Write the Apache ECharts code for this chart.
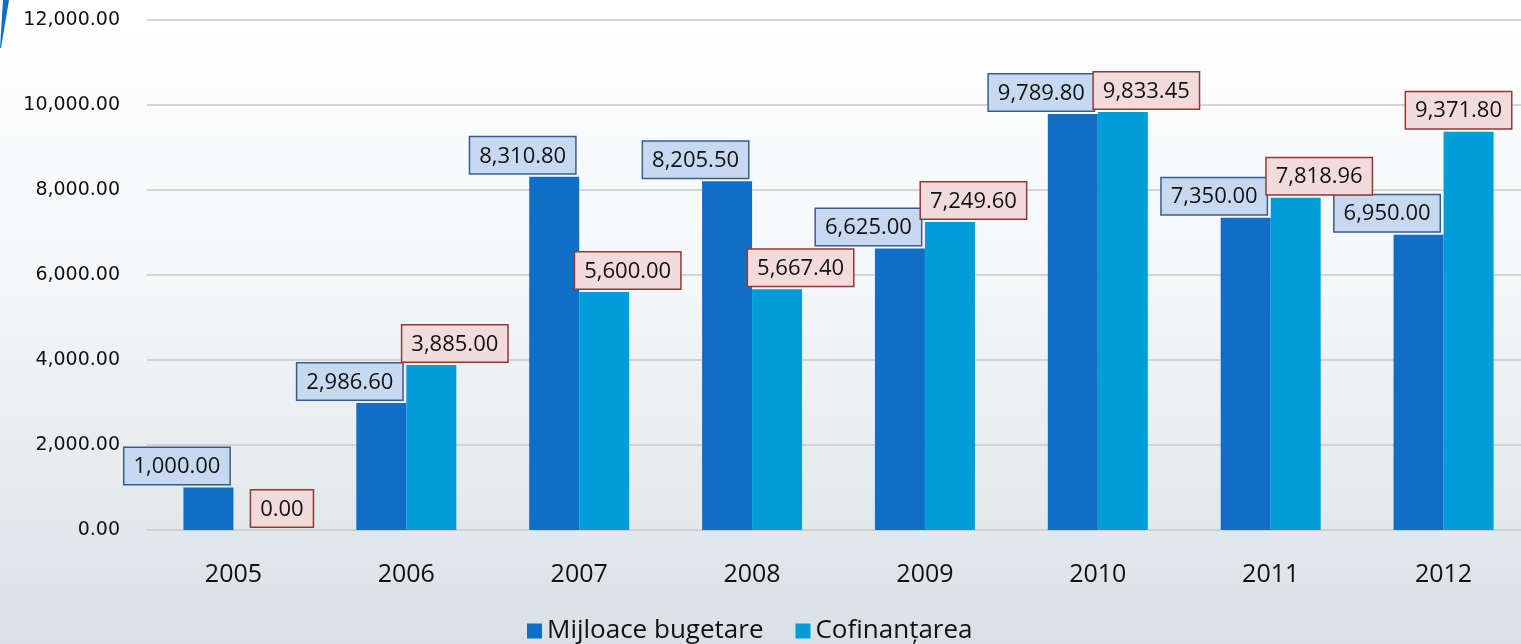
<!DOCTYPE html>
<html><head><meta charset="utf-8">
<script src="https://cdn.jsdelivr.net/npm/echarts@6/dist/echarts.min.js"></script>
<style>html,body{margin:0;padding:0;overflow:hidden;width:1521px;height:644px;}#c{width:1530px;height:644px;}</style>
</head><body><div id="c"></div>
<script>
const years = ['2005','2006','2007','2008','2009','2010','2011','2012'];
const mijloace = [1000.00, 2986.60, 8310.80, 8205.50, 6625.00, 9789.80, 7350.00, 6950.00];
const cofinantare = [0.00, 3885.00, 5600.00, 5667.40, 7249.60, 9833.45, 7818.96, 9371.80];
const seriesNames = ['Mijloace bugetare', 'Cofinanțarea'];

const fmt = v => Number(v).toLocaleString('en-US', {minimumFractionDigits: 2, maximumFractionDigits: 2});
const FONT = 'Open Sans';
const LABEL_SHIFT = [-30, 25];

const chart = echarts.init(document.getElementById('c'));
function labelStyle(bg, border) {
  return {
    show: true, position: 'top', distance: 2,
    formatter: p => fmt(p.value),
    color: '#111', fontFamily: FONT, fontSize: 22,
    backgroundColor: bg, borderColor: border, borderWidth: 1.5,
    padding: [8, 9, 6, 9]
  };
}
chart.setOption({
  backgroundColor: {
    type: 'linear', x: 0, y: 0, x2: 0, y2: 1,
    colorStops: [{offset: 0, color: '#ffffff'}, {offset: 0.45, color: '#f4f6f8'}, {offset: 1, color: '#d9e1e4'}]
  },
  animation: false,
  graphic: [{
    type: 'polygon', shape: {points: [[3, 0], [9, 0], [1, 48], [0, 48]]},
    style: {fill: '#0f6fc6'}
  }],
  grid: {left: 147, width: 1383, top: 20, height: 510, containLabel: false},
  legend: {
    top: 613, left: 522, itemWidth: 15, itemHeight: 15, itemGap: 32,
    icon: 'rect',
    textStyle: {fontFamily: FONT, fontSize: 26, color: '#111'},
    data: seriesNames
  },
  xAxis: {
    type: 'category', data: years,
    axisLine: {show: false}, axisTick: {show: false},
    axisLabel: {fontFamily: FONT, fontSize: 25, color: '#111', margin: 32}
  },
  yAxis: {
    type: 'value', min: 0, max: 12000, interval: 2000,
    axisLabel: {formatter: v => fmt(v), fontFamily: 'DejaVu Sans', fontSize: 19, color: '#111', margin: 27},
    splitLine: {lineStyle: {color: '#c9c9c9', width: 1.5}},
    axisLine: {show: false}, axisTick: {show: false}
  },
  labelLayout: function (p) {
    const r = p.labelRect;
    let left = r.x + LABEL_SHIFT[p.seriesIndex];
    if (left + r.width > 1514) left = 1514 - r.width;
    return {x: left, y: r.y, align: 'left', verticalAlign: 'top'};
  },
  series: [
    {name: seriesNames[0], type: 'bar', data: mijloace, barWidth: 50, barGap: '0%',
     itemStyle: {color: '#0f6fc6'},
     label: labelStyle('#c6d9f0', '#385d8a')},
    {name: seriesNames[1], type: 'bar', data: cofinantare, barWidth: 50,
     itemStyle: {color: '#009dd9'},
     label: labelStyle('#f2dcdb', '#953735')}
  ]
});
</script></body></html>
